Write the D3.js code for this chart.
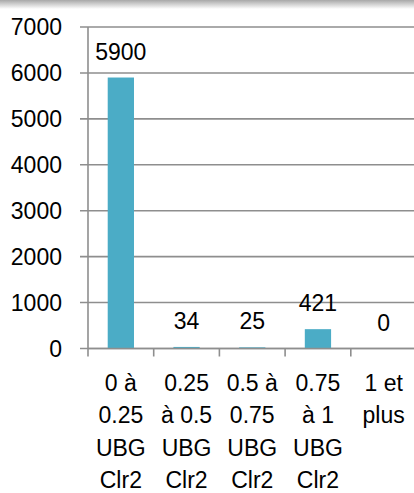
<!DOCTYPE html>
<html>
<head>
<meta charset="utf-8">
<script src="https://cdn.jsdelivr.net/npm/d3@7"></script>
<style>
  html, body { margin: 0; padding: 0; background: #ffffff; }
  svg { display: block; }
</style>
</head>
<body>
<div></div>
<script>
// data
let categories = [
  ["0 à", "0.25", "UBG", "Clr2"],
  ["0.25", "à 0.5", "UBG", "Clr2"],
  ["0.5 à", "0.75", "UBG", "Clr2"],
  ["0.75", "à 1", "UBG", "Clr2"],
  ["1 et", "plus"]
];
let values = [5900, 34, 25, 421, 0];
let yTicks = [0, 1000, 2000, 3000, 4000, 5000, 6000, 7000];

let svgWidth = 414;
let svgHeight = 493;
let plotLeft = 88, plotRight = 416.5, plotTop = 27, plotBottom = 348.5;
let fontSize = 23;
let fontFamily = "Liberation Sans, Arial, sans-serif";
let gridColor = "#8e8e8e";
let barColor = "#4bacc6";

let svg = d3.select("body div")
  .append("svg")
  .attr("width", svgWidth)
  .attr("height", svgHeight);

// top shadow band
let defs = svg.append("defs");
let grad = defs.append("linearGradient")
  .attr("id", "topShade").attr("x1", 0).attr("y1", 0).attr("x2", 0).attr("y2", 1);
grad.append("stop").attr("offset", "0%").attr("stop-color", "#a8a8a8");
grad.append("stop").attr("offset", "100%").attr("stop-color", "#ffffff");
svg.append("rect")
  .attr("x", 0).attr("y", 0).attr("width", svgWidth).attr("height", 9)
  .attr("fill", "url(#topShade)");

let keys = categories.map((c, i) => i);
let x = d3.scaleBand()
  .domain(keys)
  .range([plotLeft, plotRight])
  .paddingInner(0.6)
  .paddingOuter(0.3);

let y = d3.scaleLinear()
  .domain([0, 7000])
  .range([plotBottom, plotTop]);

// gridlines + y ticks
svg.append("g")
  .selectAll("line")
  .data(yTicks)
  .enter()
  .append("line")
  .attr("x1", plotLeft - 8)
  .attr("x2", svgWidth)
  .attr("y1", d => y(d))
  .attr("y2", d => y(d))
  .attr("stroke", gridColor)
  .attr("stroke-width", 1.6);

// y labels
svg.append("g")
  .selectAll("text")
  .data(yTicks)
  .enter()
  .append("text")
  .attr("x", 62)
  .attr("y", d => y(d))
  .attr("dy", "0.35em")
  .attr("text-anchor", "end")
  .attr("font-family", fontFamily)
  .attr("font-size", fontSize)
  .attr("fill", "#000")
  .text(d => d);

// y axis line
svg.append("line")
  .attr("x1", plotLeft).attr("x2", plotLeft)
  .attr("y1", plotTop).attr("y2", plotBottom)
  .attr("stroke", gridColor)
  .attr("stroke-width", 1.6);

// bars
svg.append("g")
  .selectAll("rect")
  .data(values)
  .enter()
  .append("rect")
  .attr("x", (d, i) => x(i))
  .attr("width", x.bandwidth())
  .attr("y", d => y(d))
  .attr("height", d => plotBottom - y(d))
  .attr("fill", barColor);

// x axis line + ticks
svg.append("line")
  .attr("x1", plotLeft).attr("x2", svgWidth)
  .attr("y1", plotBottom).attr("y2", plotBottom)
  .attr("stroke", gridColor)
  .attr("stroke-width", 1.6);

let step = x.step();
let tickPos = d3.range(categories.length + 1).map(i => plotLeft + i * step);
svg.append("g")
  .selectAll("line")
  .data(tickPos)
  .enter()
  .append("line")
  .attr("x1", d => d).attr("x2", d => d)
  .attr("y1", plotBottom).attr("y2", plotBottom + 8)
  .attr("stroke", gridColor)
  .attr("stroke-width", 1.6);

// data labels
svg.append("g")
  .selectAll("text")
  .data(values)
  .enter()
  .append("text")
  .attr("x", (d, i) => x(i) + x.bandwidth() / 2)
  .attr("y", d => y(d) - 26)
  .attr("dy", "0.35em")
  .attr("text-anchor", "middle")
  .attr("font-family", fontFamily)
  .attr("font-size", fontSize)
  .attr("fill", "#000")
  .text(d => d);

// category labels
let catG = svg.append("g");
categories.forEach(function(lines, i) {
  let t = catG.append("text")
    .attr("text-anchor", "middle")
    .attr("font-family", fontFamily)
    .attr("font-size", fontSize)
    .attr("fill", "#000");
  lines.forEach(function(line, j) {
    t.append("tspan")
      .attr("x", x(i) + x.bandwidth() / 2)
      .attr("y", 383 + j * 32.3)
      .attr("dy", "0.35em")
      .text(line);
  });
});
</script>
</body>
</html>
